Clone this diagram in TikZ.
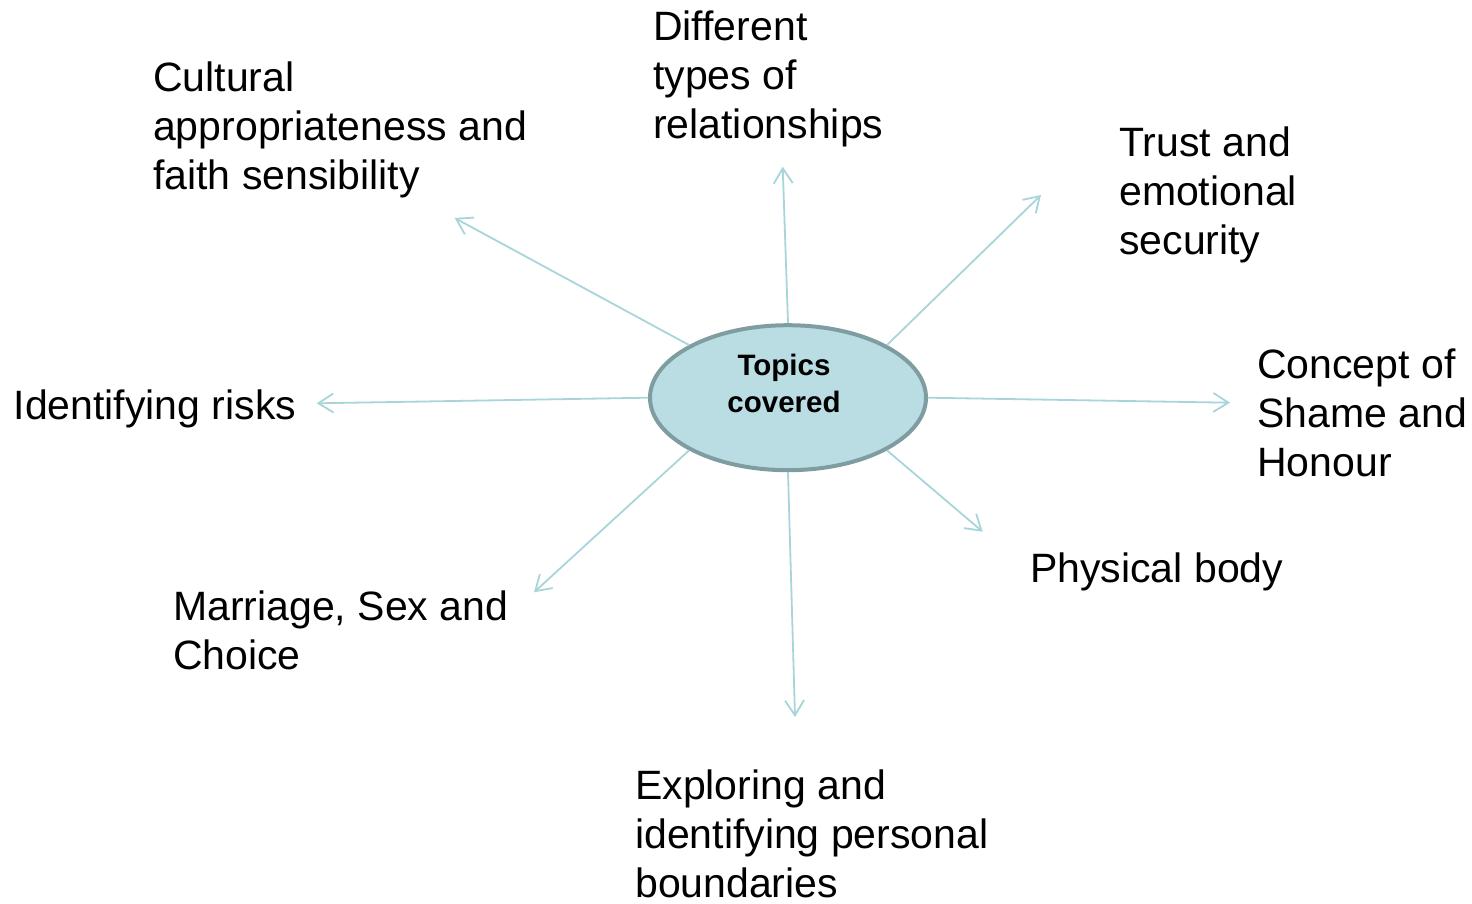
\documentclass[tikz,border=0pt]{standalone}
\usepackage{fontspec}
\setmainfont{Liberation Sans}
\usetikzlibrary{shapes.geometric,arrows.meta}
\definecolor{arrowc}{HTML}{A8D5DA}
\definecolor{ellfill}{HTML}{B9DDE3}
\definecolor{ellborder}{HTML}{7F9CA0}
\begin{document}
\begin{tikzpicture}[x=1pt,y=-1pt,
  topic/.style={anchor=base west, align=left, inner sep=0pt, font=\fontsize{41}{49}\selectfont},
  hub/.style={ellipse, draw=ellborder, line width=4pt, fill=ellfill, minimum width=276pt, minimum height=145pt, inner sep=0pt, align=center, font=\fontsize{29.5}{37}\selectfont\bfseries},
  link/.style={draw=arrowc, line width=1.8pt, -{Straight Barb[length=15pt,width=19pt]}}]
\useasboundingbox (0,0) rectangle (1472,903);
\node[hub] (c) at (788,397.7) {Topics\kern8pt\\covered\kern8pt\rule[-28pt]{0pt}{0pt}};
% anchors are at the baseline of the last line
\node[topic] (cult) at (153,189) {Cultural\\appropriateness and\\faith sensibility};
\node[topic] (diff) at (653,138) {Different\\types of\\relationships};
\node[topic] (trust) at (1119,254.5) {Trust and\\emotional\\security};
\node[topic] (shame) at (1257,476) {Concept of\\Shame and\\Honour};
\node[topic] (risk) at (13.5,419) {Identifying risks};
\node[topic] (body) at (1030,582) {Physical body};
\node[topic] (marr) at (173,669) {Marriage, Sex and\\Choice};
\node[topic] (expl) at (635,897) {Exploring and\\identifying personal\\boundaries};
\coordinate (tCult) at (454.7,218);
\coordinate (tDiff) at (782.7,166.7);
\coordinate (tTrust) at (1041,195);
\coordinate (tShame) at (1230,402.7);
\coordinate (tRisk) at (316.7,403.3);
\coordinate (tBody) at (982.7,531.7);
\coordinate (tMarr) at (534,592.3);
\coordinate (tExpl) at (795,717);
\draw[link] (c.north west) -- (tCult);
\draw[link] (c.north) -- (tDiff);
\draw[link] (c.north east) -- (tTrust);
\draw[link] (c.east) -- (tShame);
\draw[link] (c.west) -- (tRisk);
\draw[link] (c.south east) -- (tBody);
\draw[link] (c.south west) -- (tMarr);
\draw[link] (c.south) -- (tExpl);
\end{tikzpicture}
\end{document}
